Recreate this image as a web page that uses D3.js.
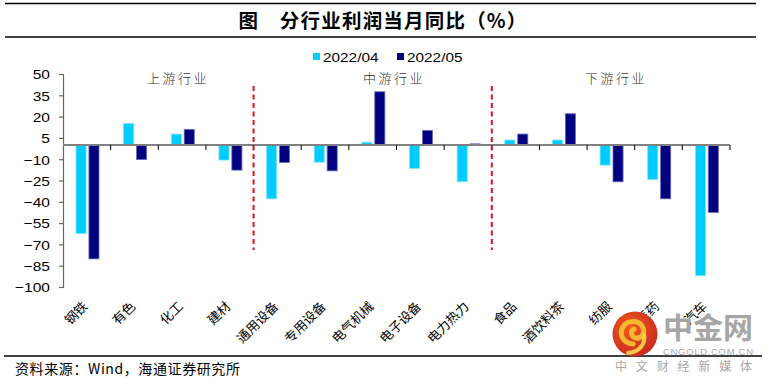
<!DOCTYPE html>
<html><head><meta charset="utf-8">
<script src="https://cdn.jsdelivr.net/npm/d3@7/dist/d3.min.js"></script>
<style>
body{margin:0;background:#fff;}
svg{display:block;}
</style></head>
<body>
<svg id="chart" width="769" height="384"></svg>
<script>
const categories = ["钢铁","有色","化工","建材","通用设备","专用设备","电气机械","电子设备","电力热力","食品","酒饮料茶","纺服","医药","汽车"];
const seriesNames = ["2022/04","2022/05"];
const apr = [-62.3, 15.2, 7.7, -10.6, -37.9, -12.1, 2.0, -16.5, -25.9, 3.5, 3.5, -14.2, -24.3, -92.0];
const may = [-80.2, -10.2, 11.0, -17.7, -12.3, -18.2, 37.5, 10.3, 0.8, 7.7, 22.0, -25.9, -37.9, -47.5];
const yTicks = [50, 35, 20, 5, -10, -25, -40, -55, -70, -85, -100];
const sections = [
  {name:"上游行业", from:0, to:3},
  {name:"中游行业", from:4, to:8},
  {name:"下游行业", from:9, to:13}
];
const dividers = [4, 9];
const title = "图　分行业利润当月同比（%）";
const source = "资料来源：Wind，海通证券研究所";
const colors = ["#00CCFF", "#000080"];
const strokes = ["#7fe3ff", "#6b6bb5"];

const svg = d3.select("#chart");
const pL = 63, pR = 730, pT = 74, pB = 287;
const x = d3.scaleBand().domain(categories).range([pL, pR]).padding(0);
const y = d3.scaleLinear().domain([-100, 50]).range([pB, pT]);
const xi = d3.scaleBand().domain(seriesNames).range([13, 36]).paddingInner(0.22);
const latin = "Liberation Sans, Arial, sans-serif";
const cjk = "'Noto Sans CJK SC', sans-serif";

function stretch(sel, f){ sel.each(function(){ const L=this.getComputedTextLength(); d3.select(this).attr("textLength", L*f).attr("lengthAdjust","spacingAndGlyphs"); }); }

// frame lines
svg.append("line").attr("x1",5).attr("x2",756).attr("y1",3.5).attr("y2",3.5).attr("stroke","#000").attr("stroke-width",1.5);
svg.append("line").attr("x1",5).attr("x2",756).attr("y1",37).attr("y2",37).attr("stroke","#000").attr("stroke-width",1.5);
svg.append("line").attr("x1",4).attr("x2",762).attr("y1",356).attr("y2",356).attr("stroke","#000").attr("stroke-width",1.5);

// title
svg.append("text").attr("x",383).attr("y",28).attr("text-anchor","middle")
  .attr("font-family",cjk).attr("font-size",19.5).attr("font-weight","bold").attr("letter-spacing",1.2).attr("fill","#000").text(title);

// legend
const lg = svg.append("g");
const legX = [313, 397];
seriesNames.forEach((s,i)=>{
  lg.append("rect").attr("x",legX[i]).attr("y",53).attr("width",7).attr("height",7).attr("fill",colors[i]);
  lg.append("text").attr("x",legX[i]+10).attr("y",61.5).attr("font-family",latin).attr("font-size",13).attr("fill","#000").text(s).call(stretch,1.18);
});

// y axis
const yAxis = svg.append("g").attr("transform",`translate(${pL},0)`)
  .call(d3.axisLeft(y).tickValues(yTicks).tickSize(4).tickPadding(9).tickFormat(d3.format("d")));
yAxis.select(".domain").attr("stroke","#666").attr("stroke-width",1.2);
yAxis.selectAll(".tick line").attr("stroke","#666").attr("stroke-width",1.2);
yAxis.selectAll(".tick text").attr("font-family",latin).attr("font-size",13.5).attr("fill","#000").attr("dy","0.36em").call(stretch,1.15);

// bars
const series = [apr, may];
series.forEach((vals,si)=>{
  svg.append("g").selectAll("rect").data(categories).join("rect")
    .attr("x",(c)=>x(c)+xi(seriesNames[si]))
    .attr("width",xi.bandwidth())
    .attr("y",(c,i)=>y(Math.max(0,vals[i])))
    .attr("height",(c,i)=>Math.abs(y(vals[i])-y(0)))
    .attr("fill",colors[si]).attr("stroke",strokes[si]).attr("stroke-width",0.8);
});

// zero axis
svg.append("line").attr("x1",pL).attr("x2",pR).attr("y1",y(0)).attr("y2",y(0)).attr("stroke","#808080").attr("stroke-width",2);
const bounds = categories.map((c)=>x(c)+x.bandwidth());
svg.append("g").selectAll("line").data(bounds).join("line")
  .attr("x1",d=>d).attr("x2",d=>d).attr("y1",y(0)).attr("y2",y(0)+5).attr("stroke","#000").attr("stroke-width",1);

// dividers
dividers.forEach(di=>{
  const xx = x(categories[di]);
  svg.append("line").attr("x1",xx).attr("x2",xx).attr("y1",86).attr("y2",250)
    .attr("stroke","#d9141e").attr("stroke-width",2).attr("stroke-dasharray","5,3.5");
});

// section labels
const sectionX = [178, 394, 616];
sections.forEach((s,i)=>{
  svg.append("text").attr("x",sectionX[i]).attr("y",83).attr("text-anchor","middle")
    .attr("font-family",cjk).attr("font-size",13).attr("font-weight",300).attr("letter-spacing",2.5).attr("fill","#333").text(s.name);
});

// x labels
svg.append("g").selectAll("text").data(categories).join("text")
  .attr("transform",c=>`translate(${x(c)+x.bandwidth()/2-1.5},304) rotate(-45)`)
  .attr("text-anchor","end").attr("dy","0.35em")
  .attr("font-family",cjk).attr("font-size",13).attr("fill","#000").text(c=>c);

// source
svg.append("text").attr("x",15).attr("y",374).attr("font-family",cjk).attr("font-size",14).attr("letter-spacing",0.6).attr("fill","#000").text(source);

// watermark
const defs = svg.append("defs");
const rg = defs.append("radialGradient").attr("id","lgrad").attr("cx","40%").attr("cy","35%").attr("r","70%");
rg.append("stop").attr("offset","0%").attr("stop-color","#f05a1e");
rg.append("stop").attr("offset","100%").attr("stop-color","#c8281e");
const wm = svg.append("g");
wm.append("circle").attr("cx",635).attr("cy",334).attr("r",22.5).attr("fill","url(#lgrad)");
wm.append("path").attr("d","M633,344 C622,343 619,333 623,327 C627,320 638,320 642,326 C646,332 642,339 636,338 C631,337 630,331 634,329")
  .attr("fill","none").attr("stroke","#f7b731").attr("stroke-width",5).attr("stroke-linecap","round");
wm.append("path").attr("d","M644,334 C646,343 640,352 628,353").attr("fill","none").attr("stroke","#f7c94a").attr("stroke-width",4).attr("stroke-linecap","round");
wm.append("text").attr("x",663).attr("y",339).attr("font-family",cjk).attr("font-size",29).attr("font-weight","bold").attr("fill","#a6a6a6").attr("textLength",90).attr("lengthAdjust","spacingAndGlyphs").text("中金网");
wm.append("text").attr("x",663).attr("y",355).attr("font-family",latin).attr("font-size",9.5).attr("fill","#a6a6a6").attr("textLength",90).attr("lengthAdjust","spacing").text("CNGOLD.COM.CN");
wm.append("text").attr("x",615).attr("y",371).attr("font-family",cjk).attr("font-size",12).attr("fill","#a6a6a6").attr("textLength",137).attr("lengthAdjust","spacing").text("中文财经新媒体");
</script>
</body></html>
